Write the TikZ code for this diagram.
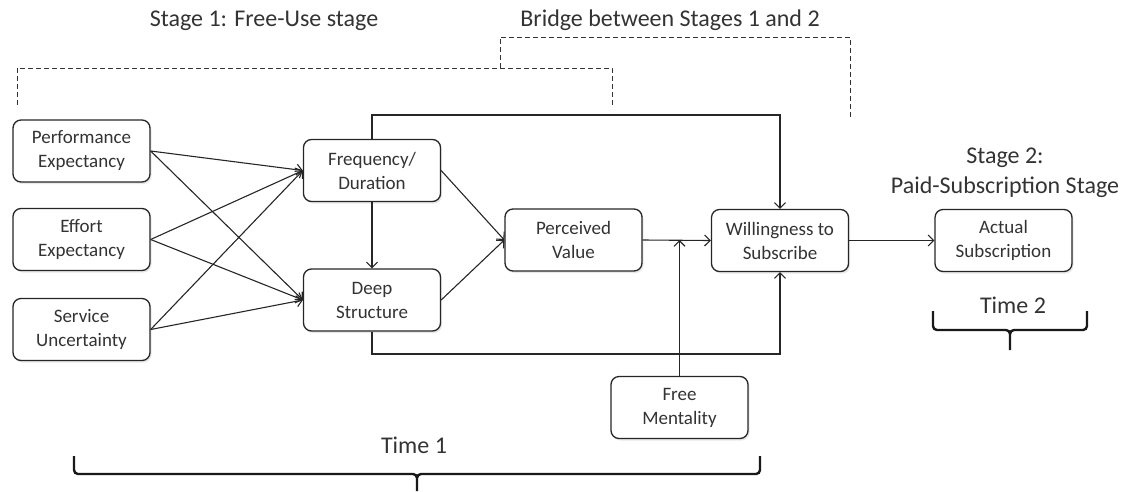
\documentclass[tikz,border=0pt]{standalone}
\usepackage{fontspec}
\setmainfont{Carlito}
\usetikzlibrary{arrows.meta,shadows}
\begin{document}
\begin{tikzpicture}[x=1pt,y=-1pt,
  box/.style={draw=black!85, line width=1.3pt, rounded corners=8pt,
    minimum width=137pt, minimum height=62pt, align=center, fill=white,
    font=\fontsize{19}{24}\selectfont, text=black!80,
    drop shadow={opacity=0.18, shadow xshift=1.5pt, shadow yshift=-2pt}},
  arr/.style={-{Straight Barb[length=5.5pt,width=11pt]}, line width=1.1pt, draw=black!85},
  lbl/.style={font=\fontsize{24}{30}\selectfont, text=black!80, align=center},
  dsh/.style={dash pattern=on 5pt off 3pt, line width=1pt, draw=black!80},
  bracepath/.style={line width=2.4pt, draw=black!90}
]
\useasboundingbox (0,0) rectangle (1130,491);

% titles
\node[lbl] (t1) at (264,21) {Stage 1: Free-Use stage};
\node[lbl] (tb) at (670,20) {Bridge between Stages 1 and 2};
\node[lbl] (t2) at (1005,173) {Stage 2:\\Paid-Subscription Stage};
\node[lbl] (tm1) at (414,445) {Time 1};
\node[lbl] (tm2) at (1013,305) {Time 2};

% dashed brackets
\draw[dsh] (17,105) -- (17,68) -- (612,68) -- (612,105);
\draw[dsh] (500,68) -- (500,37) -- (850,37) -- (850,118);

% boxes
\node[box] (pe) at (81.5,151) {Performance\\Expectancy};
\node[box] (ee) at (81.5,239.5) {Effort\\Expectancy};
\node[box] (su) at (81.5,329.5) {Service\\Uncertainty};
\node[box] (fd) at (372,170.5) {Frequency/\\Duration};
\node[box] (ds) at (372,300) {Deep\\Structure};
\node[box] (pv) at (573.5,240) {Perceived\\Value};
\node[box] (w) at (780,240.5) {Willingness to\\Subscribe};
\node[box] (as) at (1003.5,240.5) {Actual\\Subscription};
\node[box] (fm) at (679.5,407.5) {Free\\Mentality};

\coordinate (topy) at (0,115);
\coordinate (boty) at (0,354);

% connectors
\foreach \s in {pe,ee,su}{
  \draw[arr] (\s.east) -- (fd.west);
  \draw[arr] (\s.east) -- (ds.west);
}
\draw[arr] (fd.south) -- (ds.north);
\draw[arr] (fd.east) -- (pv.west);
\draw[arr] (ds.east) -- (pv.west);
\draw[arr] (pv.east) -- (w.west);
\draw[arr] (w.east) -- (as.west);
\draw[arr] (fd.north) -- (fd.north |- topy) -| (w.north);
\draw[arr] (ds.south) -- (ds.south |- boty) -| (w.south);
\draw[arr] (fm.north) -- (fm.north |- pv.east);

% braces
\draw[bracepath] (74,456) -- (74,470) to[out=-90,in=180] (78,474) -- (413,474)
  to[out=0,in=90] (417,478) -- (417,491);
\draw[bracepath] (417,478) to[out=90,in=180] (421,474) -- (756,474)
  to[out=0,in=-90] (760,470) -- (760,456);
\draw[bracepath] (933,311) -- (933,326) to[out=-90,in=180] (937,330) -- (1006,330)
  to[out=0,in=90] (1010,334) -- (1010,350);
\draw[bracepath] (1010,334) to[out=90,in=180] (1014,330) -- (1083,330)
  to[out=0,in=-90] (1087,326) -- (1087,311);
\end{tikzpicture}
\end{document}
